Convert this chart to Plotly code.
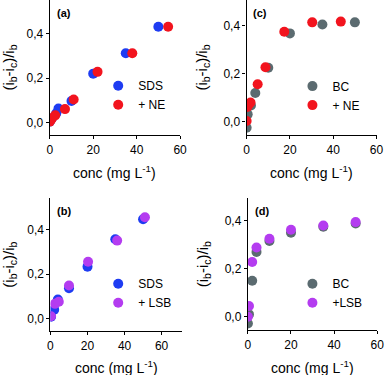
import plotly.graph_objects as go

W, H = 392, 375

# panel (a) SDS vs + NE
a_sds_x = [0, 1, 3, 4, 10, 20, 35, 50]
a_sds_y = [0.005, 0.02, 0.042, 0.064, 0.097, 0.22, 0.311, 0.43]
a_ne_x = [0, 0.5, 1, 2.5, 7, 11, 22, 38, 54.5]
a_ne_y = [0.005, 0.012, 0.02, 0.033, 0.061, 0.104, 0.228, 0.311, 0.43]

# panel (b) SDS vs + LSB
b_sds_x = [0.3, 2, 4, 10, 20, 35, 50]
b_sds_y = [0.008, 0.04, 0.085, 0.136, 0.233, 0.356, 0.446]
b_lsb_x = [0.3, 2.4, 4.5, 10, 20.3, 36, 51]
b_lsb_y = [0.01, 0.066, 0.075, 0.148, 0.255, 0.35, 0.455]

# panel (c) BC vs + NE
c_bc_x = [0, 0.5, 2, 4, 10, 20, 35, 50]
c_bc_y = [-0.025, 0.031, 0.068, 0.12, 0.225, 0.368, 0.405, 0.414]
c_ne_x = [0, 0.3, 1, 1.8, 5.1, 8.7, 17.4, 30.3, 43.5]
c_ne_y = [0.003, 0.062, 0.072, 0.08, 0.156, 0.227, 0.375, 0.414, 0.417]

# panel (d) BC vs +LSB
d_bc_x = [0, 0.5, 2, 4, 10, 20, 35, 50]
d_bc_y = [-0.028, 0.01, 0.15, 0.27, 0.315, 0.35, 0.375, 0.388]
d_lsb_x = [0, 0.5, 2, 4, 10, 20, 35, 50]
d_lsb_y = [0.0, 0.045, 0.228, 0.288, 0.325, 0.362, 0.38, 0.394]

BLUE = "#1e3cf2"
RED = "#f2141e"
GRAY = "#5b6b70"
PURPLE = "#b43cf0"


def px_x(p):
    return p / W


def px_y(p):
    return 1 - p / H


# pixel boxes (left, right, top, bottom), x range, y range, x title centre y
panels = [
    ("a", (48, 181.7, 0, 135), [0, 60], [-0.055, 0.55], 171.5),
    ("b", (48.7, 183.3, 198.3, 331), [0, 70.8], [-0.056, 0.54], 367),
    ("c", (250, 383.3, 0, 135), [0, 60], [-0.055, 0.507], 171.5),
    ("d", (251.3, 384, 198.3, 330), [0, 60], [-0.055, 0.493], 367),
]

series = [
    [(a_sds_x, a_sds_y, BLUE, "SDS"), (a_ne_x, a_ne_y, RED, "+ NE")],
    [(b_sds_x, b_sds_y, BLUE, "SDS"), (b_lsb_x, b_lsb_y, PURPLE, "+ LSB")],
    [(c_bc_x, c_bc_y, GRAY, "BC"), (c_ne_x, c_ne_y, RED, "+ NE")],
    [(d_bc_x, d_bc_y, GRAY, "BC"), (d_lsb_x, d_lsb_y, PURPLE, "+LSB")],
]

# legend marker centre (x, middle of both rows y) in pixels
legend_pos = [(126.7, 100.5), (126.7, 298.4), (326, 100.8), (326, 298.4)]

font = "Liberation Sans, Arial, sans-serif"
fig = go.Figure()
layout = dict(
    width=W, height=H,
    margin=dict(l=0, r=0, t=0, b=0),
    paper_bgcolor="white", plot_bgcolor="white",
    separators=", ",
    font=dict(family=font, size=12, color="black"),
    annotations=[],
)

for i, (lab, box, xr, yr, xty) in enumerate(panels):
    n = "" if i == 0 else str(i + 1)
    l, r, t, b = box
    leg = "legend" if i == 0 else "legend" + str(i + 1)
    for xs, ys, col, name in series[i]:
        fig.add_trace(go.Scatter(
            x=xs, y=ys, mode="markers", name=name,
            marker=dict(color=col, size=10, line=dict(width=0)),
            xaxis="x" + n, yaxis="y" + n, legend=leg,
        ))
    layout["xaxis" + n] = dict(
        domain=[px_x(l), px_x(r)], range=xr, anchor="y" + n,
        dtick=20, tick0=0, ticks="outside", ticklen=3, tickcolor="black",
        showline=True, linecolor="black", linewidth=1.3, showgrid=False, zeroline=False,
        tickfont=dict(size=12),
    )
    layout["yaxis" + n] = dict(
        domain=[px_y(b), px_y(t)], range=yr, anchor="x" + n,
        dtick=0.2, tick0=0, tickformat=".1f", ticks="outside", ticklen=3, tickcolor="black",
        showline=True, linecolor="black", linewidth=1.3, showgrid=False, zeroline=False,
        tickfont=dict(size=12),
        title=dict(text="(i<sub>b</sub>-i<sub>c</sub>)/i<sub>b</sub>", font=dict(size=15), standoff=12),
    )
    mx, my = legend_pos[i]
    layout[leg] = dict(
        x=px_x(mx - 29), y=px_y(my - 9.5 - 19.7), xanchor="left", yanchor="top",
        bgcolor="rgba(0,0,0,0)", font=dict(size=12), tracegroupgap=0,
        itemsizing="trace",
    )
    # x axis title
    layout["annotations"].append(dict(
        text="conc (mg L<sup>-1</sup>)", xref="paper", yref="paper",
        x=px_x((l + r) / 2), y=px_y(xty), xanchor="center", yanchor="middle",
        showarrow=False, font=dict(size=14),
    ))
    # panel label
    layout["annotations"].append(dict(
        text="<b>(" + lab + ")</b>", xref="paper", yref="paper",
        x=px_x(l + 5), y=px_y(t + 13), xanchor="left", yanchor="middle",
        showarrow=False, font=dict(size=11),
    ))

fig.update_layout(**layout)
# drop the page's default body margin so the figure sits at the window origin
fig.write_html("out.html", config={"displayModeBar": False},
               post_script="document.body.style.margin='0';")
